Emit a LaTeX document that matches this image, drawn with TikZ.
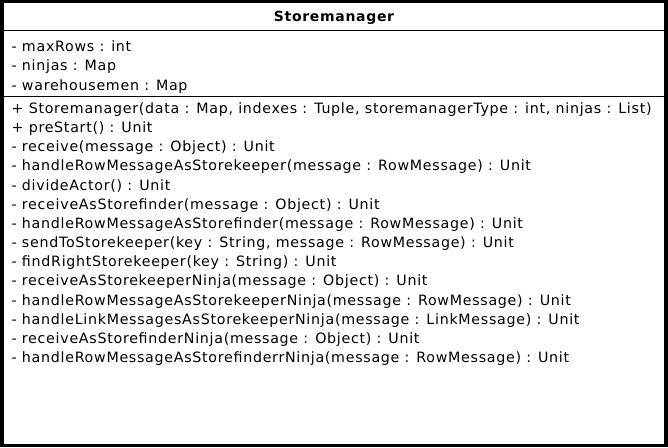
\documentclass[tikz,border=0pt]{standalone}
\usepackage{fontspec}
\setmainfont{DejaVu Sans}
\newfontfamily\umlfont[LetterSpace=5]{DejaVu Sans}
\usetikzlibrary{positioning}

\begin{document}
\begin{tikzpicture}[x=1pt, y=-1pt,
		classtitle/.style={anchor=base, inner sep=0pt, font=\umlfont\fontsize{14}{16}\selectfont\bfseries},
		member/.style={anchor=base west, inner sep=0pt, font=\umlfont\fontsize{14.25}{16}\selectfont}]
	
	% geometry
	\def\W{668}
	\def\H{448}
	\def\pitch{19.2}
	
	% frame
	\path[fill=white] (0,0) rectangle (\W,\H);
	\draw[line width=3.5pt] (1.75,1.75) rectangle (\W-1.75,\H-1.75);
	\draw[line width=0.9pt] (0,30) -- (\W,30);
	\draw[line width=0.9pt] (0,97) -- (\W,97);
	
	% name
	\node[classtitle] (title) at (\W/2,22) {Storemanager};
	
	% attributes
	\foreach \txt [count=\i] in {
		{- maxRows : int},
		{- ninjas : Map},
		{- warehousemen : Map}}
	{\node[member] (attr\i) at (11,{51.5+(\i-1)*19.5}) {\txt};}
	
	% operations
	\foreach \txt [count=\i] in {
		{+ Storemanager(data : Map, indexes : Tuple, storemanagerType : int, ninjas : List)},
		{+ preStart() : Unit},
		{- receive(message : Object) : Unit},
		{- handleRowMessageAsStorekeeper(message : RowMessage) : Unit},
		{- divideActor() : Unit},
		{- receiveAsStorefinder(message : Object) : Unit},
		{- handleRowMessageAsStorefinder(message : RowMessage) : Unit},
		{- sendToStorekeeper(key : String, message : RowMessage) : Unit},
		{- findRightStorekeeper(key : String) : Unit},
		{- receiveAsStorekeeperNinja(message : Object) : Unit},
		{- handleRowMessageAsStorekeeperNinja(message : RowMessage) : Unit},
		{- handleLinkMessagesAsStorekeeperNinja(message : LinkMessage) : Unit},
		{- receiveAsStorefinderNinja(message : Object) : Unit},
		{- handleRowMessageAsStorefinderrNinja(message : RowMessage) : Unit}}
	{\node[member] (op\i) at (11,{113.5+(\i-1)*\pitch}) {\txt};}
	
\end{tikzpicture}
\end{document}
